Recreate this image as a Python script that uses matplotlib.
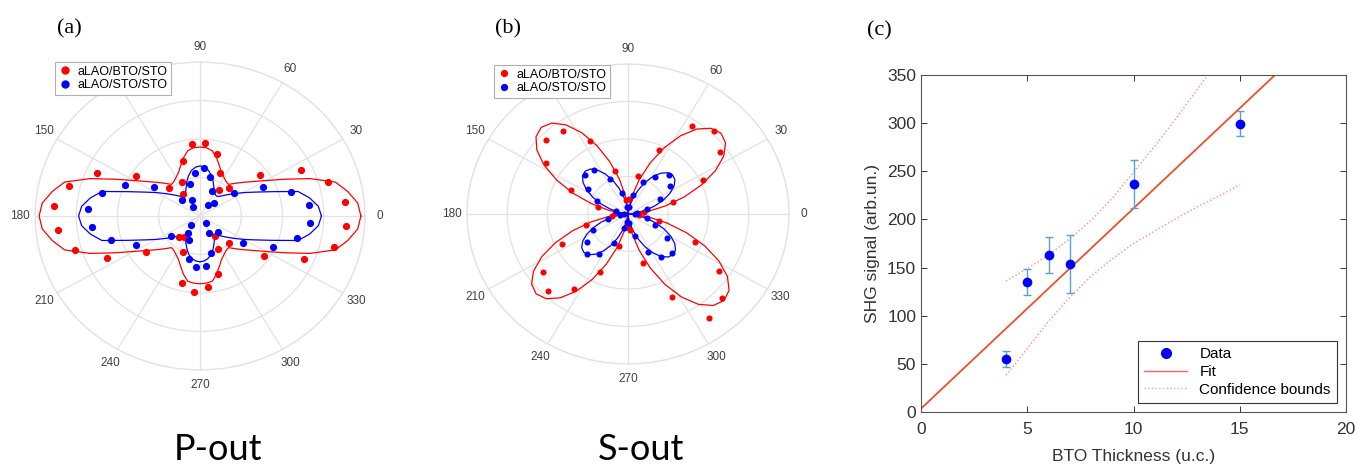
import numpy as np
import matplotlib.pyplot as plt
from matplotlib.lines import Line2D

plt.rcParams['font.family'] = ['Liberation Sans', 'DejaVu Sans']

# ---------- panel (a): P-out, normalised radius (1 = outer ring) ----------
pt_angles = list(range(6, 360, 10))
a_red = [0.885, 0.810, 0.678, 0.451, 0.254, 0.203, 0.303, 0.416, 0.473, 0.470,
         0.373, 0.247, 0.176, 0.262, 0.467, 0.683, 0.816, 0.886, 0.863, 0.791,
         0.629, 0.403, 0.186, 0.168, 0.259, 0.446, 0.496, 0.462, 0.389, 0.242,
         0.159, 0.248, 0.467, 0.693, 0.836, 0.887]
a_blue = [0.665, 0.575, 0.424, 0.251, 0.121, 0.090, 0.177, 0.260, 0.315, 0.283,
          0.216, 0.113, 0.070, 0.153, 0.339, 0.499, 0.612, 0.680, 0.658, 0.563,
          0.430, 0.216, 0.077, 0.130, 0.170, 0.286, 0.330, 0.325, 0.249, 0.124,
          0.060, 0.150, 0.312, 0.487, 0.603, 0.666]

fit_angles = list(range(0, 360, 5))
a_red_fit = [.975, .96, .91, .85, .71, .565, .46, .39, .34, .30,
             .268, .275, .29, .31, .345, .39, .43, .445, .448, .445,
             .43, .39, .345, .31, .29, .275, .268, .30, .34, .39,
             .46, .565, .71, .85, .91, .96, .975, .96, .91, .85,
             .71, .565, .46, .39, .34, .30, .268, .275, .29, .31,
             .345, .39, .43, .438, .44, .438, .43, .39, .345, .31,
             .29, .275, .268, .30, .34, .39, .46, .565, .71, .85,
             .91, .96]
a_blue_fit = [.736, .72, .675, .615, .462, .367, .304, .253, .215, .184,
              .165, .165, .175, .20, .235, .27, .30, .318, .325, .318,
              .30, .27, .235, .20, .175, .165, .165, .184, .215, .253,
              .304, .367, .462, .615, .675, .72, .736, .72, .675, .615,
              .462, .367, .304, .253, .215, .184, .165, .165, .175, .20,
              .23, .26, .28, .293, .298, .293, .28, .26, .23, .20,
              .175, .165, .165, .184, .215, .253, .304, .367, .462, .615,
              .675, .72]

# ---------- panel (b): S-out ----------
b_red = [0.10, 0.291, 0.516, 0.705, 0.770, 0.706, 0.467, 0.258, 0.10, 0.093,
         0.297, 0.539, 0.684, 0.709, 0.613, 0.390, 0.191, 0.08, 0.10, 0.270,
         0.456, 0.655, 0.712, 0.603, 0.426, 0.223, 0.09, 0.107, 0.337, 0.618,
         0.858, 0.809, 0.685, 0.457, 0.198, 0.07]
b_blue = [0.058, 0.125, 0.224, 0.321, 0.363, 0.300, 0.236, 0.13, 0.05, 0.05,
          0.143, 0.259, 0.360, 0.373, 0.298, 0.208, 0.077, 0.025, 0.05, 0.132,
          0.239, 0.317, 0.368, 0.320, 0.215, 0.097, 0.051, 0.06, 0.154, 0.281,
          0.353, 0.377, 0.29, 0.183, 0.12, 0.043]

# fitted lobes: lobe axis angle, radii sampled every 5 deg from -45 to +45 off axis
lobe_axes = [43, 133, 223, 316]
lobe_offsets = list(range(-45, 50, 5))
b_red_fit = [
    [0, .040, .126, .239, .367, .496, .615, .709, .769, .79, .769, .709, .615, .496, .367, .239, .126, .040, 0],
    [0, .040, .126, .239, .367, .496, .615, .709, .769, .79, .769, .709, .615, .496, .367, .239, .126, .040, 0],
    [0, .040, .124, .236, .362, .490, .607, .700, .760, .78, .760, .700, .607, .490, .362, .236, .124, .040, 0],
    [0, .042, .132, .251, .385, .521, .646, .745, .808, .83, .808, .745, .646, .521, .385, .251, .132, .042, 0],
]
b_blue_fit = [
    [0, .019, .060, .115, .176, .239, .296, .341, .370, .38, .370, .341, .296, .239, .176, .115, .060, .019, 0],
    [0, .020, .062, .118, .181, .245, .303, .350, .380, .39, .380, .350, .303, .245, .181, .118, .062, .020, 0],
    [0, .019, .060, .113, .174, .236, .292, .336, .365, .375, .365, .336, .292, .236, .174, .113, .060, .019, 0],
    [0, .020, .062, .118, .181, .245, .303, .350, .380, .39, .380, .350, .303, .245, .181, .118, .062, .020, 0],
]

# angle labels; 120 sits under the legend in the original, so it is not shown
theta_ticks = list(range(0, 360, 30))
theta_labels = ['0', '30', '60', '90', '', '150', '180', '210', '240', '270', '300', '330']

# ---------- panel (c): thickness dependence ----------
thk = [4, 5, 6, 7, 10, 15]
shg = [55, 135, 163, 154, 237, 299]
shg_lo = [47, 121, 144, 124, 212, 287]
shg_hi = [63, 149, 182, 184, 262, 313]
fit_x = [0, 20]
fit_y = [3.5, 419.5]
cb_x = [4, 5, 6, 7, 8, 9, 10, 11, 12, 13, 14, 15]
cb_hi = [136, 149, 163, 180, 199, 222, 249, 276, 305, 335, 365, 395]
cb_lo = [38, 66, 94, 119, 141, 159, 175, 188, 201, 213, 224, 236]

RED = '#ff0000'
BLUE = '#0000ff'
GRID = '#e2e2e2'
W, H = 1357, 467


def px_box(x0, y0, x1, y1):
    return [x0 / W, 1 - y1 / H, (x1 - x0) / W, (y1 - y0) / H]


def style_polar(ax):
    ax.set_aspect('auto')
    ax.set_rlim(0, 1)
    ax.set_rticks([0.25, 0.5, 0.75, 1.0])
    ax.set_yticklabels([])
    ax.set_thetagrids(theta_ticks, theta_labels)
    ax.tick_params(axis='x', colors='#404040', labelsize=8.5, pad=0.5)
    ax.grid(True, color=GRID, lw=0.9)
    ax.spines['polar'].set_color(GRID)
    ax.spines['polar'].set_linewidth(0.9)


def polar_legend(ax, x0, y0, ms):
    handles = [Line2D([], [], ls='none', marker='o', color=RED, ms=ms),
               Line2D([], [], ls='none', marker='o', color=BLUE, ms=ms)]
    leg = ax.legend(handles, ['aLAO/BTO/STO', 'aLAO/STO/STO'],
                    loc='upper left', bbox_to_anchor=(x0 / W, 1 - y0 / H),
                    bbox_transform=fig.transFigure, borderaxespad=0,
                    fontsize=9, handlelength=1.0, handletextpad=0.5,
                    borderpad=0.3, labelspacing=0.12, fancybox=False,
                    framealpha=1, edgecolor='#b0b0b0')
    leg.get_frame().set_linewidth(0.8)
    leg.set_zorder(10)


fig = plt.figure(figsize=(13.57, 4.67), dpi=100)

# (a)
ax_a = fig.add_axes(px_box(35, 62, 365, 370), projection='polar')
style_polar(ax_a)
ta = np.deg2rad(fit_angles + [360])
ax_a.plot(ta, a_red_fit + a_red_fit[:1], color=RED, lw=0.9)
ax_a.plot(ta, a_blue_fit + a_blue_fit[:1], color=BLUE, lw=0.9)
ax_a.plot(np.deg2rad(pt_angles), a_red, 'o', color=RED, ms=5.2, mec='none')
ax_a.plot(np.deg2rad(pt_angles), a_blue, 'o', color=BLUE, ms=5.2, mec='none')
polar_legend(ax_a, 55, 62, 5)

# (b)
ax_b = fig.add_axes(px_box(467, 64, 789, 364), projection='polar')
style_polar(ax_b)
for axis, rr, rb in zip(lobe_axes, b_red_fit, b_blue_fit):
    th = np.deg2rad([axis + o for o in lobe_offsets])
    ax_b.plot(th, rr, color=RED, lw=0.9)
    ax_b.plot(th, rb, color=BLUE, lw=0.9)
ax_b.plot(np.deg2rad(pt_angles), b_red, 'o', color=RED, ms=4.4, mec='none')
ax_b.plot(np.deg2rad(pt_angles), b_blue, 'o', color=BLUE, ms=4.4, mec='none')
polar_legend(ax_b, 494, 65, 4.2)

# (c)
ax_c = fig.add_axes(px_box(921, 75, 1346, 412))
ax_c.plot(cb_x, cb_hi, ls=':', color='#ff8c8c', lw=1.0)
ax_c.plot(cb_x, cb_lo, ls=':', color='#ff8c8c', lw=1.0)
ax_c.plot(fit_x, fit_y, color='#ec4f2c', lw=1.3)
yerr = [np.subtract(shg, shg_lo), np.subtract(shg_hi, shg)]
ax_c.errorbar(thk, shg, yerr=yerr, fmt='none', ecolor='#5b9fd6', elinewidth=1.0,
              capsize=3, capthick=1.0)
ax_c.plot(thk, shg, 'o', color=BLUE, ms=7, mec='none')
ax_c.set_xlim(0, 20)
ax_c.set_ylim(0, 350)
ax_c.set_xticks(range(0, 21, 5))
ax_c.set_yticks(range(0, 351, 50))
ax_c.tick_params(direction='in', top=True, right=True, length=4, labelsize=12.5,
                 colors='#333333', width=0.7)
ax_c.tick_params(axis='x', pad=7)
for s in ax_c.spines.values():
    s.set_color('#555555')
    s.set_linewidth(0.8)
ax_c.set_xlabel('BTO Thickness (u.c.)', fontsize=12.5, color='#333333', labelpad=9)
ax_c.set_ylabel('SHG signal (arb.un.)', fontsize=12.5, color='#333333', labelpad=5)
leg_handles = [Line2D([], [], ls='none', marker='o', color=BLUE, ms=7),
               Line2D([], [], color='#ff6060', lw=1.0),
               Line2D([], [], color='#ff9c9c', lw=1.0, ls=':')]
leg = ax_c.legend(leg_handles, ['Data', 'Fit', 'Confidence bounds'], loc='lower right',
                  fontsize=11, fancybox=False, framealpha=1, edgecolor='#333333',
                  handlelength=2.8, borderaxespad=0.6, labelspacing=0.25)
leg.get_frame().set_linewidth(0.8)

# panel labels
for x, y, t in [(69, 29, '(a)'), (508, 29, '(b)'), (879, 31, '(c)')]:
    fig.text(x / W, 1 - y / H, t, family='Liberation Serif', fontsize=16,
             ha='center', va='center')
fig.text(218 / W, 1 - 460 / H, 'P-out', family='Lato', fontsize=26,
         ha='center', va='baseline')
fig.text(641 / W, 1 - 460 / H, 'S-out', family='Lato', fontsize=26,
         ha='center', va='baseline')

fig.savefig('out.png', dpi=100)
